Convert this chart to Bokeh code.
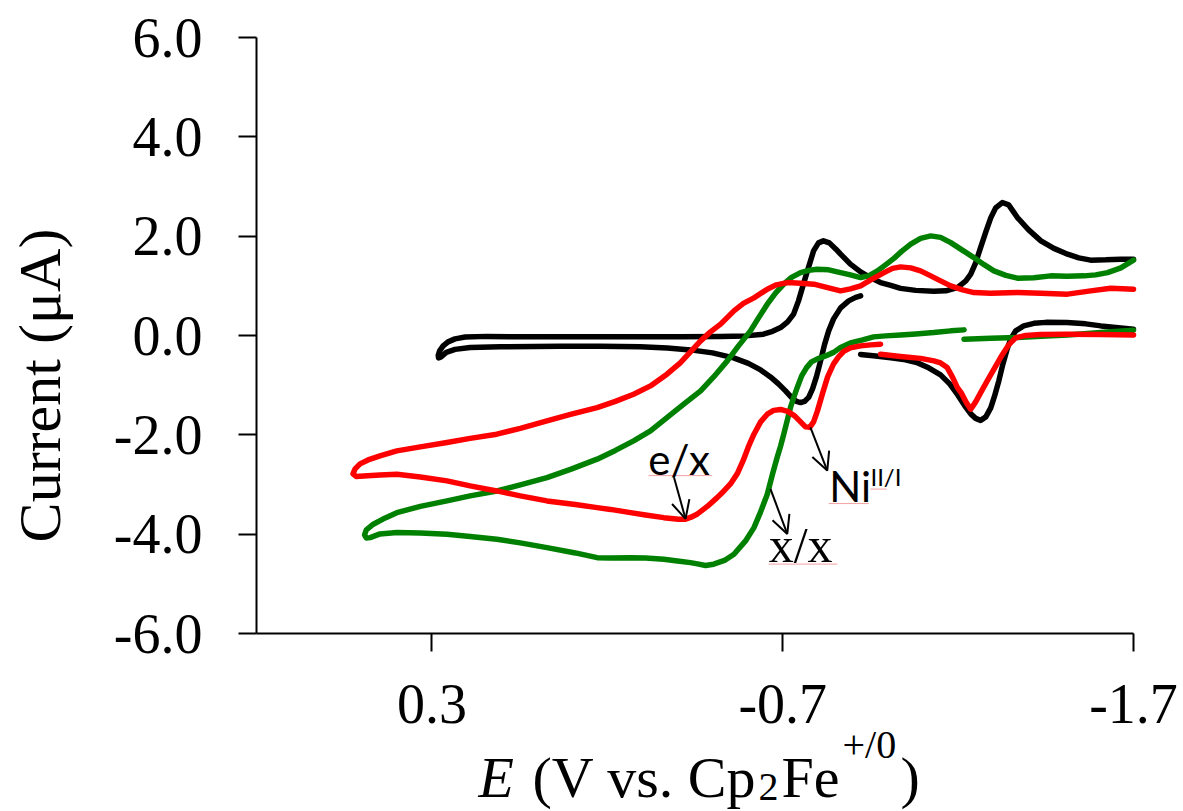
import math
from bokeh.plotting import figure
from bokeh.models import (Range1d, FixedTicker, PrintfTickFormatter, Label,
                          Arrow, OpenHead)
from bokeh.embed import file_html
from bokeh.resources import INLINE

NaN = float("nan")

# ---------------- data (E in V vs Cp2Fe+/0, current in uA) ----------------
black_E = [-0.922, -0.965, -1.008, -1.050, -1.085, -1.116, -1.150, -1.176, -1.199, -1.219,
           -1.236, -1.250, -1.264, -1.279, -1.293, -1.304, -1.316, -1.327, -1.339, -1.350,
           -1.364, -1.387, -1.416, -1.450, -1.510, -1.564, -1.607, -1.664, -1.700, NaN,
           -1.700, -1.664, -1.621, -1.578, -1.544, -1.512, -1.473, -1.436, -1.401,
           -1.369, -1.344, -1.326, -1.307, -1.293, -1.279, -1.264, -1.250, -1.236, -1.222,
           -1.198, -1.165, -1.130, -1.079, -1.036, -1.008, -0.979, -0.951, -0.922, -0.893,
           -0.865, -0.851, -0.833, -0.816, -0.802, -0.788, -0.774, -0.759, -0.745, -0.731,
           -0.714, -0.694, -0.671, -0.645, -0.594, -0.523, -0.408, -0.180, 0.048, 0.142,
           0.205, 0.234, 0.254, 0.268, 0.278, 0.282, 0.281, 0.274, 0.259, 0.234,
           0.191, 0.105, -0.066, -0.180, -0.294, -0.371, -0.437, -0.500, -0.560, -0.602,
           -0.637, -0.665, -0.688, -0.708, -0.725, -0.739, -0.751, -0.762, -0.774, -0.785,
           -0.796, -0.808, -0.819, -0.831, -0.845, -0.865, -0.888, -0.908, -0.922]
black_I = [-0.379, -0.409, -0.449, -0.489, -0.550, -0.650, -0.791, -0.972, -1.194, -1.415,
           -1.576, -1.667, -1.707, -1.637, -1.456, -1.214, -0.912, -0.590, -0.288, -0.066,
           0.095, 0.195, 0.246, 0.266, 0.262, 0.236, 0.195, 0.155, 0.130, NaN,
           1.538, 1.538, 1.524, 1.518, 1.564, 1.639, 1.756, 1.907, 2.128,
           2.376, 2.631, 2.678, 2.571, 2.370, 2.088, 1.772, 1.464, 1.236, 1.101,
           0.966, 0.900, 0.890, 0.910, 0.950, 1.011, 1.067, 1.162, 1.282, 1.438,
           1.639, 1.745, 1.866, 1.907, 1.866, 1.705, 1.383, 1.035, 0.699, 0.431,
           0.276, 0.161, 0.085, 0.028, -0.006, -0.016, -0.022, -0.026, -0.026, -0.016,
           -0.030, -0.066, -0.127, -0.207, -0.308, -0.399, -0.449, -0.429, -0.338, -0.278,
           -0.238, -0.227, -0.217, -0.217, -0.227, -0.248, -0.288, -0.348, -0.449, -0.560,
           -0.691, -0.832, -0.972, -1.113, -1.244, -1.325, -1.349, -1.325, -1.244, -1.073,
           -0.832, -0.509, -0.187, 0.095, 0.336, 0.558, 0.699, 0.769, 0.799]

green_E = [-1.217, -1.179, -1.130, -1.079, -1.036, -0.993, -0.959, -0.928, -0.893, -0.865,
           -0.845, -0.822, -0.799, -0.782, -0.768, -0.754, -0.742, -0.731, -0.722, -0.714,
           -0.703, -0.694, -0.684, -0.671, -0.656, -0.637, -0.618, -0.594, -0.561, -0.534,
           -0.503, -0.480, -0.457, -0.437, -0.400, -0.361, -0.309, -0.266, -0.209, -0.171,
           -0.109, -0.028, 0.048, 0.115, 0.191, 0.257, 0.333, 0.400, 0.448, 0.476,
           0.487, 0.492, 0.487, 0.467, 0.433, 0.400, 0.333, 0.257, 0.191, 0.115,
           0.048, -0.028, -0.095, -0.171, -0.223, -0.275, -0.323, -0.370, -0.417, -0.466,
           -0.503, -0.542, -0.574, -0.608, -0.631, -0.656, -0.680, -0.703, -0.725, -0.751,
           -0.774, -0.798, -0.831, -0.865, -0.893, -0.922, -0.945, -0.970, -0.993, -1.017,
           -1.039, -1.065, -1.093, -1.122, -1.150, -1.179, -1.213, -1.245, -1.273, -1.302,
           -1.336, -1.369, -1.416, -1.464, -1.510, -1.559, -1.592, -1.626, -1.664, -1.700,
           NaN, -1.700, -1.607, -1.512, -1.436, -1.369, -1.293, -1.217]
green_I = [0.115, 0.095, 0.060, 0.034, 0.014, -0.006, -0.026, -0.087, -0.147, -0.238,
           -0.338, -0.409, -0.469, -0.530, -0.644, -0.811, -1.033, -1.254, -1.450, -1.677,
           -1.985, -2.221, -2.456, -2.785, -3.193, -3.549, -3.866, -4.133, -4.401, -4.526,
           -4.602, -4.627, -4.596, -4.570, -4.536, -4.502, -4.476, -4.470, -4.476, -4.470,
           -4.375, -4.268, -4.173, -4.099, -4.043, -3.998, -3.972, -3.966, -3.992, -4.067,
           -4.073, -4.013, -3.912, -3.797, -3.670, -3.564, -3.439, -3.328, -3.227, -3.127,
           -3.006, -2.859, -2.694, -2.488, -2.312, -2.120, -1.919, -1.651, -1.385, -1.113,
           -0.832, -0.509, -0.207, 0.095, 0.356, 0.632, 0.860, 1.035, 1.172, 1.268,
           1.313, 1.337, 1.323, 1.268, 1.222, 1.168, 1.202, 1.303, 1.423, 1.554,
           1.695, 1.840, 1.957, 2.007, 1.977, 1.872, 1.715, 1.570, 1.433, 1.303,
           1.212, 1.156, 1.162, 1.202, 1.192, 1.202, 1.222, 1.268, 1.363, 1.520,
           NaN, 0.108, 0.064, 0.014, -0.016, -0.040, -0.056, -0.072]

red_E = [-0.979, -0.951, -0.922, -0.893, -0.874, -0.859, -0.845, -0.828, -0.814, -0.799,
         -0.788, -0.777, -0.765, -0.751, -0.734, -0.714, -0.694, -0.674, -0.656, -0.637,
         -0.618, -0.602, -0.588, -0.571, -0.551, -0.531, -0.513, -0.485, -0.457, -0.437,
         -0.423, -0.403, -0.361, -0.309, -0.266, -0.209, -0.171, -0.109, -0.028, 0.048,
         0.115, 0.191, 0.257, 0.333, 0.400, 0.448, 0.495, 0.516, 0.525, 0.519,
         0.505, 0.482, 0.448, 0.400, 0.333, 0.257, 0.191, 0.115, 0.048, -0.028,
         -0.095, -0.171, -0.223, -0.275, -0.323, -0.370, -0.408, -0.437, -0.466, -0.494,
         -0.523, -0.561, -0.588, -0.618, -0.656, -0.682, -0.713, -0.751, -0.789, -0.825,
         -0.865, -0.893, -0.922, -0.951, -0.989, -1.013, -1.036, -1.065, -1.093, -1.122,
         -1.150, -1.179, -1.213, -1.245, -1.293, -1.369, -1.436, -1.512, -1.578, -1.635,
         -1.700, NaN, -1.700, -1.607, -1.512, -1.436, -1.393, -1.364, -1.344,
         -1.321, -1.301, -1.283, -1.264, -1.250, -1.236, -1.224, -1.210, -1.198, -1.185,
         -1.169, -1.150, -1.131, -1.093, -1.036, -0.979]
red_I = [-0.173, -0.187, -0.207, -0.248, -0.318, -0.429, -0.570, -0.832, -1.154, -1.516,
         -1.737, -1.848, -1.838, -1.737, -1.617, -1.526, -1.486, -1.506, -1.583, -1.737,
         -1.985, -2.241, -2.503, -2.774, -2.986, -3.137, -3.262, -3.439, -3.590, -3.661,
         -3.697, -3.697, -3.665, -3.610, -3.564, -3.499, -3.463, -3.399, -3.328, -3.227,
         -3.127, -3.026, -2.925, -2.845, -2.791, -2.805, -2.825, -2.835, -2.785, -2.684,
         -2.583, -2.503, -2.422, -2.321, -2.241, -2.154, -2.069, -1.985, -1.868, -1.717,
         -1.587, -1.450, -1.325, -1.181, -1.013, -0.777, -0.550, -0.328, -0.107, 0.075,
         0.230, 0.497, 0.648, 0.759, 0.934, 1.021, 1.067, 1.051, 1.035, 0.970,
         0.900, 0.940, 1.001, 1.121, 1.268, 1.353, 1.383, 1.363, 1.303, 1.202,
         1.101, 1.001, 0.920, 0.866, 0.850, 0.866, 0.850, 0.834, 0.900, 0.954,
         0.934, NaN, 0.014, 0.024, 0.028, 0.024, 0.004, -0.046, -0.187,
         -0.443, -0.691, -0.912, -1.154, -1.335, -1.482, -1.355, -1.164, -1.047, -0.852,
         -0.644, -0.550, -0.509, -0.459, -0.419, -0.374]

y_ticks = [-6, -4, -2, 0, 2, 4, 6]
x_ticks = [0.3, -0.7, -1.7]
x_limits = (0.8, -1.7)
y_limits = (-6, 6)

y_title = "Current (μA)"
# x title pieces: text, x offset (px), baseline, size, style
x_title = [("E", 0, -8.886, "58px", "italic"),
           ("(V vs. Cp", 54, -8.886, "58px", "normal"),
           ("2", 280, -9.096, "40px", "normal"),
           ("Fe", 303, -8.886, "58px", "normal"),
           ("+/0", 364, -8.231, "40px", "normal"),
           (")", 422, -8.886, "58px", "normal")]

# annotation texts: (text, E, I, font, size)
notes = [("e/x", -0.317, -2.476, "Lato", "42px"),
         ("x/x", -0.660, -4.214, "Liberation Serif", "50px"),
         ("Ni", -0.833, -3.034, "Lato", "42px"),
         ("II/I", -0.950, -2.840, "Lato", "24px")]
arrows = [(-0.390, -2.853, -0.423, -3.690),
          (-0.665, -3.086, -0.713, -3.992),
          (-0.779, -1.846, -0.827, -2.718)]
squiggles = [(-0.317, -0.499, -2.819), (-0.660, -0.856, -4.600),
             (-0.831, -0.945, -3.382), (-0.950, -0.996, -3.090)]

SERIF = "Liberation Serif"

# the frame covers the whole canvas; axes sit at fixed locations inside it
p = figure(width=1183, height=811,
           x_range=Range1d(1.5298, -1.8425), y_range=Range1d(-9.580, 6.745),
           output_backend="svg", toolbar_location=None,
           min_border_left=0, min_border_right=0,
           min_border_top=0, min_border_bottom=0)
p.outline_line_color = None
p.xgrid.visible = False
p.ygrid.visible = False
p.background_fill_color = "white"
p.border_fill_color = "white"

for ax in (p.xaxis[0], p.yaxis[0]):
    ax.axis_line_width = 2
    ax.axis_line_color = "black"
    ax.major_tick_line_width = 2
    ax.major_tick_line_color = "black"
    ax.major_tick_out = 18
    ax.major_tick_in = 0
    ax.minor_tick_line_color = None
    ax.major_label_text_font = SERIF
    ax.major_label_text_font_size = "56px"
    ax.major_label_text_color = "black"
    ax.formatter = PrintfTickFormatter(format="%.1f")

p.xaxis.fixed_location = y_limits[0]
p.xaxis.bounds = x_limits
p.yaxis.fixed_location = x_limits[0]
p.yaxis.bounds = y_limits
p.yaxis.ticker = FixedTicker(ticks=y_ticks)
p.xaxis.ticker = FixedTicker(ticks=x_ticks)
p.yaxis.major_label_standoff = 36
p.xaxis.major_label_standoff = 33

lw = 5.5
p.line(black_E, black_I, line_color="black", line_width=lw, line_join="round", line_cap="round")
p.line(green_E, green_I, line_color="#008000", line_width=lw, line_join="round", line_cap="round")
p.line(red_E, red_I, line_color="#ff0000", line_width=lw, line_join="round", line_cap="round")

# spell-check style underlines
for x0, x1, yy in squiggles:
    p.segment(x0=[x0], y0=[yy], x1=[x1], y1=[yy], line_color="#f3a0a0", line_width=1)

for txt, xx, yy, font, size in notes:
    p.add_layout(Label(x=xx, y=yy, text=txt, text_font=font, text_font_size=size,
                       text_baseline="alphabetic", text_color="black"))
for xs, ys, xe, ye in arrows:
    p.add_layout(Arrow(end=OpenHead(size=18, line_width=2, line_color="black"),
                       x_start=xs, y_start=ys, x_end=xe, y_end=ye,
                       line_width=2, line_color="black"))

# y-axis title (rotated)
p.add_layout(Label(x=1.416, y=-1.005, text=y_title, angle=math.pi / 2,
                   text_font=SERIF, text_font_size="60px", text_align="center",
                   text_baseline="alphabetic", text_color="black"))

# x-axis title composed of pieces: E (V vs. Cp2Fe+/0)
base_x = 0.1672
for txt, dx, yy, fs, style in x_title:
    p.add_layout(Label(x=base_x, y=yy, x_offset=dx, text=txt, text_font=SERIF,
                       text_font_size=fs, text_font_style=style,
                       text_baseline="alphabetic", text_color="black"))

open("out.html", "w").write(file_html(p, INLINE))
